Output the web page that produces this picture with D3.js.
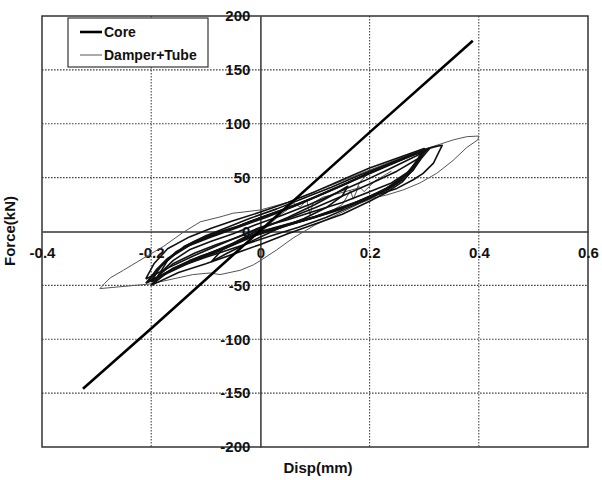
<!DOCTYPE html>
<html>
<head>
<meta charset="utf-8">
<script src="https://cdn.jsdelivr.net/npm/d3@7"></script>
<style>
  html, body { margin: 0; padding: 0; background: #fff; }
  svg { display: block; }
  text { font-family: "Liberation Sans", Arial, sans-serif; font-weight: bold; fill: #111; }
</style>
</head>
<body>
<svg id="chart" width="602" height="480"></svg>
<script>
// ---------- data ----------
const xTicks = [-0.4, -0.2, 0, 0.2, 0.4, 0.6];
const xTickLabels = ["-0.4", "-0.2", "0", "0.2", "0.4", "0.6"];
const yTicks = [-200, -150, -100, -50, 0, 50, 100, 150, 200];
const yTickLabels = ["-200", "-150", "-100", "-50", "0", "50", "100", "150", "200"];
const seriesNames = ["Core", "Damper+Tube"];

// Core: straight elastic line [disp(mm), force(kN)]
const coreData = [[-0.325, -146], [-0.2, -90], [0, 1], [0.2, 92], [0.389, 177]];

// Damper+Tube hysteresis cycles [disp(mm), force(kN)]
const damperCycle1 = [[-0.2,-45],[-0.18,-31],[-0.155,-19],[-0.12,-9],[-0.08,-1],[-0.04,5],[0,13],[0.05,22],[0.1,32],[0.15,43],[0.2,55],[0.25,65],[0.3,75],[0.292,66],[0.28,57],[0.261,48],[0.232,38.5],[0.2,32],[0.15,21],[0.1,13],[0.05,6],[0,-1],[-0.07,-16],[-0.13,-27],[-0.18,-40],[-0.2,-45]];
const damperCycle2 = [[-0.19,-43],[-0.17,-27],[-0.14,-14],[-0.1,-4],[-0.06,4],[-0.02,12],[0.03,21],[0.08,31],[0.13,41],[0.18,52],[0.23,62],[0.28,72],[0.295,74],[0.285,64],[0.27,54],[0.245,44],[0.215,36],[0.18,28],[0.13,18],[0.08,10],[0.03,3],[-0.02,-5],[-0.08,-19],[-0.14,-30],[-0.175,-39],[-0.19,-43]];
const damperCycle3 = [[-0.2,-47],[-0.185,-34],[-0.16,-22],[-0.13,-12],[-0.09,-4],[-0.05,3],[-0.01,11],[0.04,20],[0.09,30],[0.14,41],[0.19,52],[0.24,63],[0.29,73],[0.305,76],[0.295,70],[0.28,60],[0.26,50],[0.23,40],[0.205,34],[0.16,24],[0.11,15],[0.06,8],[0.01,1],[-0.05,-12],[-0.11,-23],[-0.16,-34],[-0.2,-47]];
const damperCycle4 = [[-0.205,-46],[-0.19,-35],[-0.17,-25],[-0.14,-15],[-0.1,-6],[-0.06,1],[-0.02,9],[0.02,16],[0.07,25],[0.12,36],[0.17,47],[0.22,58],[0.27,69],[0.31,77],[0.3,71],[0.285,62],[0.265,52],[0.24,43],[0.21,33],[0.17,24],[0.12,13],[0.07,4],[0.02,-4],[-0.04,-14],[-0.1,-24],[-0.15,-33],[-0.185,-42],[-0.205,-46]];
const damperCycle5 = [[-0.195,-48],[-0.18,-37],[-0.16,-27],[-0.13,-17],[-0.09,-9],[-0.05,-2],[-0.01,6],[0.04,15],[0.09,25],[0.14,36],[0.19,47],[0.24,59],[0.285,70],[0.3,74],[0.29,67],[0.275,56],[0.25,45],[0.22,36],[0.19,29],[0.15,22],[0.1,14],[0.05,7],[0,0],[-0.06,-13],[-0.12,-26],[-0.17,-38],[-0.195,-48]];
const damperCycle6 = [[-0.21,-48],[-0.19,-36],[-0.165,-24],[-0.13,-13],[-0.09,-5],[-0.04,4],[0.01,13],[0.06,23],[0.11,34],[0.16,45],[0.21,57],[0.26,68],[0.3,76],[0.322,79],[0.333,80],[0.327,74],[0.317,63.5],[0.298,54],[0.28,48],[0.25,40],[0.22,35],[0.19,30],[0.14,21],[0.09,12],[0.04,4],[-0.01,-4],[-0.07,-17],[-0.13,-29],[-0.18,-41],[-0.21,-48]];
const damperCycle7 = [[-0.09,-28],[-0.07,-17],[-0.04,-8],[0,2],[0.05,13],[0.1,25],[0.14,36],[0.16,42],[0.15,33],[0.12,22],[0.08,12],[0.03,2],[-0.02,-10],[-0.06,-20],[-0.09,-28]];
const damperCycle8 = [[-0.21,-44],[-0.195,-30],[-0.17,-16],[-0.13,-5],[-0.09,3],[-0.05,10],[0,18],[0.05,27],[0.1,37],[0.15,48],[0.2,59],[0.25,68],[0.3,77],[0.29,68],[0.27,55],[0.24,45],[0.2,37],[0.15,27],[0.1,19],[0.05,11],[0,4],[-0.06,-9],[-0.12,-22],[-0.17,-34],[-0.21,-44]];
const damperCycle9 = [[-0.2,-50],[-0.185,-40],[-0.16,-30],[-0.12,-20],[-0.08,-12],[-0.04,-5],[0,3],[0.05,12],[0.1,22],[0.15,33],[0.2,44],[0.25,56],[0.29,68],[0.28,58],[0.26,46],[0.23,36],[0.2,28],[0.15,16],[0.1,7],[0.05,-2],[0,-12],[-0.05,-21],[-0.1,-30],[-0.15,-38],[-0.2,-50]];
const damperOuter = [[-0.294,-53],[-0.285,-48],[-0.275,-43],[-0.251,-36],[-0.215,-25],[-0.178,-14],[-0.142,-1],[-0.11,9],[-0.074,13.5],[-0.05,17],[-0.032,18],[0,20],[0.05,27],[0.1,37],[0.15,47],[0.2,57],[0.25,67],[0.31,78],[0.329,81],[0.353,85],[0.378,88],[0.4,88.6],[0.398,85],[0.378,78],[0.353,66],[0.323,54],[0.292,45],[0.261,38.5],[0.232,34],[0.206,31],[0.182,26],[0.15,18],[0.1,6],[0.06,-6],[0.03,-17],[0,-27],[-0.013,-31],[-0.037,-36],[-0.074,-40],[-0.092,-38.5],[-0.124,-40],[-0.202,-48.7],[-0.294,-53]];
const damperZigzag1 = [[0,-1],[0.02,8],[0.035,15],[0.049,20],[0.06,26.5],[0.073,22.7],[0.085,29],[0.091,15],[0.096,26.5],[0.115,32],[0.146,35.7],[0.177,40],[0.182,46],[0.2,55]];
const damperZigzag2 = [[0.13,19],[0.15,25],[0.165,38],[0.17,30],[0.18,42],[0.19,37],[0.21,47],[0.24,56]];

const denseCycles = [damperCycle1, damperCycle2, damperCycle3, damperCycle4, damperCycle5, damperCycle6, damperCycle7, damperCycle8, damperCycle9];
const thinCurves = [damperOuter, damperZigzag1, damperZigzag2];

// ---------- layout ----------
const svg = d3.select("#chart");
const x = d3.scaleLinear().domain([-0.4, 0.6]).range([42, 588]);
const y = d3.scaleLinear().domain([-200, 200]).range([447, 16]);

// grid (dotted)
const grid = svg.append("g");
grid.selectAll("line.vg").data(xTicks.filter(v => v !== 0 && v !== -0.4 && v !== 0.6)).enter()
  .append("line").attr("class", "vg")
  .attr("x1", d => x(d)).attr("x2", d => x(d))
  .attr("y1", y(200)).attr("y2", y(-200))
  .attr("stroke", "#444").attr("stroke-width", 1.1).attr("stroke-dasharray", "1.6,1.4");
grid.selectAll("line.hg").data(yTicks.filter(v => v !== 0 && Math.abs(v) !== 200)).enter()
  .append("line").attr("class", "hg")
  .attr("x1", x(-0.4)).attr("x2", x(0.6))
  .attr("y1", d => y(d)).attr("y2", d => y(d))
  .attr("stroke", "#444").attr("stroke-width", 1.1).attr("stroke-dasharray", "1.6,1.4");

// frame
svg.append("rect")
  .attr("x", x(-0.4)).attr("y", y(200))
  .attr("width", x(0.6) - x(-0.4)).attr("height", y(-200) - y(200))
  .attr("fill", "none").attr("stroke", "#333").attr("stroke-width", 1.5);

// axes through zero
const xAxis = d3.axisBottom(x).tickValues(xTicks).tickSize(0).tickPadding(16)
  .tickFormat((d, i) => xTickLabels[i]);
const yAxis = d3.axisLeft(y).tickValues(yTicks).tickSize(0).tickPadding(10)
  .tickFormat((d, i) => yTickLabels[i]);

const gx = svg.append("g").attr("transform", `translate(0,${y(0)})`).call(xAxis);
gx.select(".domain").attr("stroke", "#333").attr("stroke-width", 1.5);
gx.selectAll("text").attr("font-size", 15).attr("font-family", "Liberation Sans, Arial, sans-serif")
  .attr("font-weight", "bold").attr("fill", "#111");

const gy = svg.append("g").attr("transform", `translate(${x(0)},0)`).call(yAxis);
gy.select(".domain").attr("stroke", "#333").attr("stroke-width", 1.5);
gy.selectAll("text").attr("font-size", 15).attr("font-family", "Liberation Sans, Arial, sans-serif")
  .attr("font-weight", "bold").attr("fill", "#111");

// axis titles
svg.append("text").attr("x", 318).attr("y", 473).attr("text-anchor", "middle")
  .attr("font-size", 15).text("Disp(mm)");
svg.append("text").attr("transform", "translate(15,231) rotate(-90)").attr("text-anchor", "middle")
  .attr("font-size", 15).text("Force(kN)");

// data lines
const line = d3.line().x(d => x(d[0])).y(d => y(d[1])).curve(d3.curveLinear);
const dataG = svg.append("g");
dataG.selectAll("path.thin").data(thinCurves).enter().append("path")
  .attr("class", "thin").attr("d", line)
  .attr("fill", "none").attr("stroke", "#555").attr("stroke-width", 1);
dataG.selectAll("path.dense").data(denseCycles).enter().append("path")
  .attr("class", "dense").attr("d", line)
  .attr("fill", "none").attr("stroke", "#111").attr("stroke-width", 1.6)
  .attr("stroke-linejoin", "round");
dataG.append("path").datum(coreData).attr("d", line)
  .attr("fill", "none").attr("stroke", "#000").attr("stroke-width", 2.6);

// legend
const lg = svg.append("g");
lg.append("rect").attr("x", 68).attr("y", 18).attr("width", 140).attr("height", 49)
  .attr("fill", "#fff").attr("stroke", "#333").attr("stroke-width", 1.2);
const legendStyles = [{w: 2.6, c: "#000"}, {w: 1, c: "#555"}];
seriesNames.forEach((name, i) => {
  const yy = 32 + i * 23;
  lg.append("line").attr("x1", 80).attr("x2", 102).attr("y1", yy).attr("y2", yy)
    .attr("stroke", legendStyles[i].c).attr("stroke-width", legendStyles[i].w);
  lg.append("text").attr("x", 104).attr("y", yy + 5).attr("font-size", 14).text(name);
});
</script>
</body>
</html>
